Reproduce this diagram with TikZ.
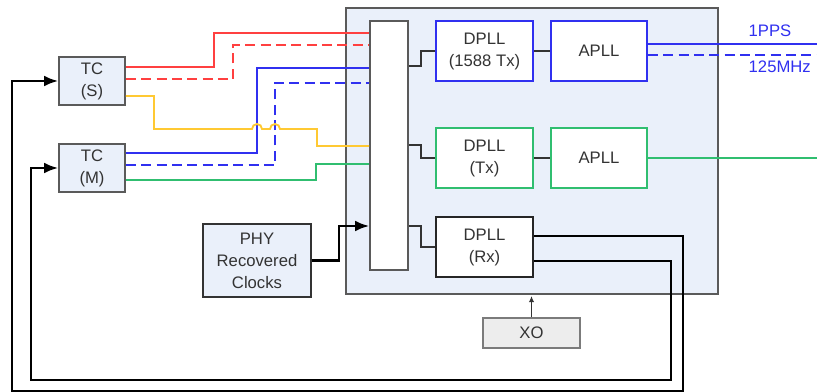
\documentclass[tikz,border=0pt]{standalone}
\usepackage{fontspec}
\setmainfont{Liberation Sans}
\usetikzlibrary{arrows.meta}
\definecolor{boxfill}{HTML}{EAF0FA}
\definecolor{boxgray}{HTML}{5A5A5A}
\definecolor{textgray}{HTML}{333333}
\definecolor{lred}{HTML}{FF4040}
\definecolor{lblue}{HTML}{3030F0}
\definecolor{lyellow}{HTML}{FFC933}
\definecolor{lgreen}{HTML}{30BE70}
\definecolor{xofill}{HTML}{EDEDED}
\begin{document}
\begin{tikzpicture}[x=0.75pt,y=-0.75pt]

      \tikzset{block/.style={draw=boxgray, line width=1.3pt, fill=boxfill, inner sep=0pt, align=center, text=textgray, font=\fontsize{12.5}{16.5}\selectfont},
               pll/.style={block, fill=white, minimum width=72.75pt, minimum height=45pt},
               link/.style={draw=textgray, line width=1.3pt},
               wire/.style={line width=1.4pt},
               dashwire/.style={wire, dash pattern=on 7.5pt off 4pt},
               fb/.style={draw=black, line width=1.6pt, -{Latex[length=10.5pt,width=8pt]}},
               outlbl/.style={text=lblue, anchor=west, font=\fontsize{12.5}{14}\selectfont}}

      \useasboundingbox (0,0) rectangle (817,392);
%% Boxes
      	\node[block, minimum width=279pt, minimum height=214.5pt] (chip) at (532,151) {};
      	\node[block, fill=white, minimum width=28.5pt, minimum height=186.75pt] (mux) at (389,145.5) {};
      	\node[block, minimum width=49.5pt, minimum height=36pt] (tcS) at (92,81) {TC\\(S)};
      	\node[block, minimum width=49.5pt, minimum height=36pt] (tcM) at (92,168) {TC\\(M)};
      	\node[pll, draw=lblue] (dpllA) at (484.5,51) {DPLL\\(1588 Tx)};
      	\node[pll, draw=lblue, minimum width=72pt] (apllA) at (599,51) {APLL};
      	\node[pll, draw=lgreen] (dpllB) at (484.5,158) {DPLL\\(Tx)};
      	\node[pll, draw=lgreen, minimum width=72pt] (apllB) at (599,158) {APLL};
      	\node[pll, draw=black!85] (dpllC) at (484.5,247) {DPLL\\(Rx)};
      	\node[block, draw=black!80, minimum width=81pt, minimum height=54.75pt] (phy) at (257,260.5) {PHY\\Recovered\\Clocks};
      	\node[block, fill=xofill, draw=boxgray!80, minimum width=72.75pt, minimum height=22.5pt] (xo) at (531.5,333) {XO};
%% Outputs
      	\coordinate (ppsEnd) at (817,44);
      	\coordinate (mhzEnd) at (817,55);
      	\coordinate (txEnd) at (817,158);
      	\node[outlbl] (ppsLbl) at (744,31) {1PPS};
      	\node[outlbl] (mhzLbl) at (744,67) {125MHz};
%Connections
		\draw[wire, lred] (tcS.east |- 0,67) -| (214,33) -- (mux.west |- 0,33);
		\draw[dashwire, lred] (tcS.east |- 0,79) -| (233,45) -- (mux.west |- 0,45);
		\draw[wire, lblue] (tcM.east |- 0,153) -| (257,68) -- (mux.west |- 0,68);
		\draw[dashwire, lblue] (tcM.east |- 0,165) -| (275,83) -- (mux.west |- 0,83);
		\draw[wire, lyellow] (tcS.east |- 0,96) -| (154,129) -- (252,129) arc[start angle=180, end angle=0, radius=3.75pt] -- (270,129) arc[start angle=180, end angle=0, radius=3.75pt] -| (317,146) -- (mux.west |- 0,146);
		\draw[wire, lgreen] (tcM.east |- 0,180) -| (316,164) -- (mux.west |- 0,164);
		\draw[link] (mux.east |- 0,66) -| (421,51) -- (dpllA.west);
		\draw[link] (mux.east |- 0,145) -| (421,158) -- (dpllB.west);
		\draw[link] (mux.east |- 0,226) -| (421,247) -- (dpllC.west);
		\draw[link] (dpllA) -- (apllA);
		\draw[link] (dpllB) -- (apllB);
		\draw[wire, lblue] (apllA.east |- ppsEnd) -- (ppsEnd);
		\draw[dashwire, lblue] (apllA.east |- mhzEnd) -- (mhzEnd);
		\draw[wire, lgreen] (apllB.east) -- (txEnd);
		\draw[fb] (phy.east) -| (339,226) -- (mux.west |- 0,226);
		\draw[link, -{Latex[length=4.5pt,width=4pt]}] (xo.north) -- (xo.north |- 0,296);
		\draw[fb] (dpllC.east |- 0,236) -| (683,391) -| (12,81) -- (tcS.west);
		\draw[fb] (dpllC.east |- 0,261) -| (671,380) -| (31,168) -- (tcM.west);

	\end{tikzpicture}
\end{document}
